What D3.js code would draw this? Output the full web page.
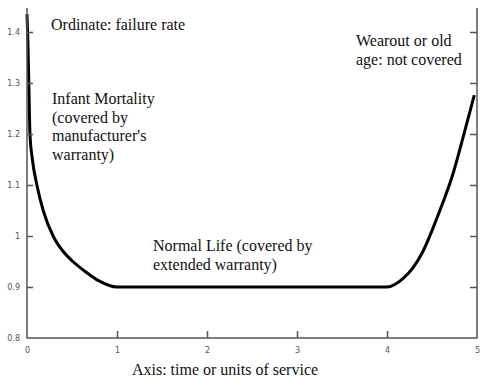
<!DOCTYPE html>
<html>
<head>
<meta charset="utf-8">
<script src="https://cdn.jsdelivr.net/npm/d3@7"></script>
</head>
<body style="margin:0; background:#fff">
<div></div>
<script>
// bathtub curve
var infantX = [0, 0.01, 0.02, 0.033, 0.06, 0.11, 0.18, 0.29, 0.4, 0.51, 0.65, 0.8, 1];
var infantY = [1.435, 1.38, 1.3, 1.2, 1.15, 1.1, 1.05, 1.0, 0.97, 0.95, 0.93, 0.912, 0.9];
var wearX = [4, 4.18, 4.29, 4.4, 4.51, 4.62, 4.73, 4.84, 4.97];
var wearY = [0.9, 0.917, 0.938, 0.97, 1.015, 1.065, 1.12, 1.19, 1.276];
var xTicks = [0, 1, 2, 3, 4, 5];
var yTicks = [0.8, 0.9, 1, 1.1, 1.2, 1.3, 1.4];

var width = 485;
var height = 386;
var serif = 'Liberation Serif';

var svg = d3.select('div')
    .append('svg')
    .attr('width', width)
    .attr('height', height);

var x = d3.scaleLinear().domain([0, 5]).range([27, 477]);
var y = d3.scaleLinear().domain([0.8, 1.447]).range([338, 8]);

var points = infantX.map((d, i) => [d, infantY[i]])
    .concat(wearX.map((d, i) => [d, wearY[i]]));

var line = d3.line()
    .x(d => x(d[0]))
    .y(d => y(d[1]))
    .curve(d3.curveMonotoneX);

svg.append('path')
    .datum(points)
    .attr('d', line)
    .attr('fill', 'none')
    .attr('stroke', '#000')
    .attr('stroke-width', 3);

// axes
var xAxis = svg.append('g')
    .attr('transform', 'translate(0,' + y(0.8) + ')')
    .call(d3.axisBottom(x).tickValues(xTicks).tickFormat(d3.format('')).tickSize(0).tickPadding(9));
xAxis.selectAll('.tick').filter(d => d > 0 && d < 5)
    .append('line').attr('y2', -7).attr('stroke', '#555').attr('stroke-width', 1.5);

var yAxis = svg.append('g')
    .attr('transform', 'translate(' + x(0) + ',0)')
    .call(d3.axisLeft(y).tickValues(yTicks).tickFormat(d3.format('')).tickSize(0).tickPadding(7));
yAxis.selectAll('.tick').filter(d => d > 0.8)
    .append('line').attr('x2', 6).attr('stroke', '#555').attr('stroke-width', 1.5);

var rAxis = svg.append('g')
    .attr('transform', 'translate(' + x(5) + ',0)')
    .call(d3.axisRight(y).tickValues(yTicks).tickFormat('').tickSize(0));
rAxis.selectAll('.tick').filter(d => d > 0.8)
    .append('line').attr('x2', -7).attr('stroke', '#555').attr('stroke-width', 1.5);

svg.selectAll('.tick text')
    .attr('font-family', 'DejaVu Sans')
    .attr('font-size', 8)
    .attr('fill', '#555');

svg.selectAll('.domain').remove();
svg.append('path')
    .attr('d', 'M' + x(0) + ',' + y(1.447) + 'V' + y(0.8) + 'H' + x(5) + 'V' + y(1.447))
    .attr('fill', 'none')
    .attr('stroke', '#555')
    .attr('stroke-width', 1.5);

// annotations
var notes = [
    { x: 51, y: 30, lines: ['Ordinate: failure rate'] },
    { x: 52, y: 104, lines: ['Infant Mortality', '(covered by', "manufacturer's", 'warranty)'] },
    { x: 356, y: 46, lines: ['Wearout or old', 'age: not covered'] },
    { x: 153, y: 251, lines: ['Normal Life (covered by', 'extended warranty)'] }
];
notes.forEach(function (n) {
    var t = svg.append('text')
        .attr('x', n.x).attr('y', n.y)
        .attr('font-family', serif).attr('font-size', 16).attr('fill', '#111');
    n.lines.forEach(function (s, i) {
        t.append('tspan').attr('x', n.x).attr('dy', i === 0 ? 0 : 18.5).text(s);
    });
});

svg.append('text')
    .attr('x', 225)
    .attr('y', 375)
    .attr('text-anchor', 'middle')
    .attr('font-family', serif)
    .attr('font-size', 16)
    .attr('fill', '#111')
    .text('Axis: time or units of service');
</script>
</body>
</html>
